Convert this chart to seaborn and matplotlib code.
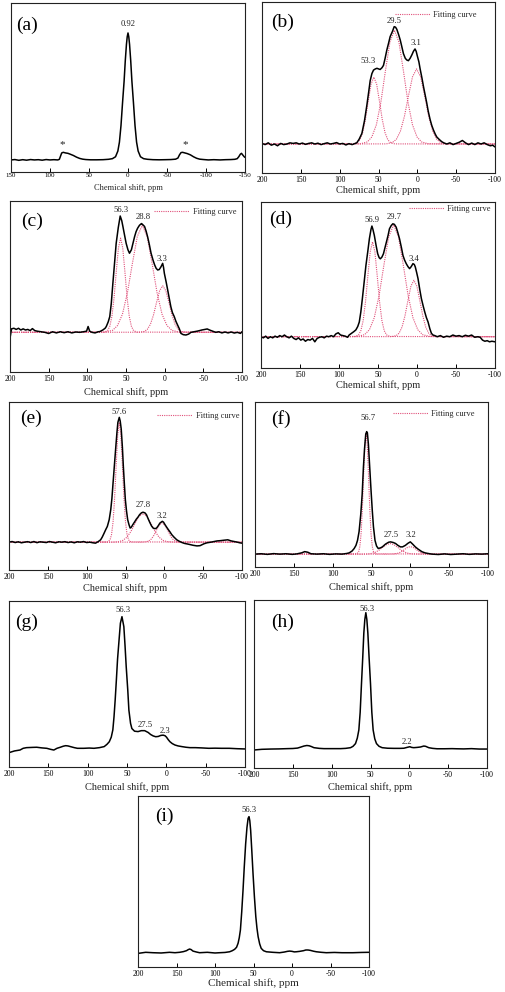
import matplotlib
matplotlib.use('Agg')
import matplotlib.pyplot as plt
import seaborn as sns
from matplotlib.lines import Line2D
from matplotlib.transforms import Bbox

# ---------------- data (ppm, relative intensity) ----------------
ticks_a = [150, 100, 50, 0, -50, -100, -150]
ticks_std = [200, 150, 100, 50, 0, -50, -100]

# (a)
a_x = [150, 145, 140, 135, 130, 125, 120, 115, 110, 105, 100, 95, 90, 88, 86.5, 85, 83, 80, 77, 74, 70, 66, 62, 58, 54, 48, 40, 32, 25, 20, 16, 13, 11, 9, 7, 5, 3.5, 2, 1, 0,
       -1, -2, -3.5, -5, -7, -9, -11, -13, -16, -20, -25, -32, -40, -48, -55, -61, -64, -66, -68, -70, -73, -76, -80, -84, -88, -92, -97, -103, -110, -118, -125, -132, -137, -140, -142, -144, -145.5, -147, -149, -150]
a_y = [0, 0.3, -0.3, 0.2, -0.2, 0.3, 0, 0.2, -0.2, 0.3, 0, 0.2, 0, 0.5, 3, 5.5, 6, 5.5, 5.2, 4.5, 3.5, 2.2, 1.2, 0.6, 0.3, 0.1, 0.1, 0.2, 0.5, 1, 2.5, 7, 14, 27, 45, 62, 78, 91, 97, 100,
       97, 91, 78, 62, 45, 27, 14, 7, 2.5, 1, 0.5, 0.2, 0.1, 0.2, 0.3, 0.6, 1.5, 4, 5.8, 6, 5.5, 5, 4, 2.5, 1.3, 0.6, 0.3, 0, 0.2, 0, 0.2, 0.3, 0.5, 1, 2.5, 4.5, 5.2, 4, 2.5, 2]
a_lab_text = ['0.92', '*', '*']
a_lab_x = [0, 84, -73]
a_lab_y = [107, 12, 12]

# (b)
b_x = [200, 196, 192, 188, 184, 180, 176, 172, 168, 164, 160, 156, 152, 148, 144, 140, 136, 132, 128, 124, 120, 116, 112, 108, 104, 100, 96, 92, 88, 84, 80,
       78, 75, 71.4, 68, 65, 62.5, 60.7, 58.5, 56.4, 54, 52, 50, 47.9, 45.5, 43.6, 41.5, 39.3, 37, 35, 32, 29.8, 28, 26.4, 24, 22, 20, 17.9, 15.5, 13.6, 11.5, 9.3, 7, 5, 3, 1.5, 0,
       -2, -3.6, -6, -7.9, -10, -12.1, -14, -16.4, -18.5, -20.7, -23, -25, -28, -31.4, -34, -37.9, -42, -46, -50, -54, -58, -62, -66, -70, -74, -78, -82, -86, -90, -94, -97, -100]
b_y = [0.5, -0.5, 1, -1, 0, -1.5, 0.5, -0.5, 0, 1, 0.5, 1, 0, 0.8, -0.3, 0.5, 1, 0, 0.7, -0.5, 0.3, 1, 0, 0.5, 1.2, 0, 0.5, -0.8, 0.3, -0.5, 0.5,
       1, 4, 9, 20, 33, 45, 54, 60, 63, 64, 64.5, 64, 63.5, 65, 67, 73, 80, 86, 91.5, 96, 100, 99.5, 97.7, 93, 88.6, 83, 77, 73, 71.6, 71, 73, 76, 79, 81, 79, 75,
       70, 64, 56, 49, 42, 35, 28, 21, 16, 12, 8.5, 6, 4, 2, 1, 0, 1, -0.5, 0.5, 1.5, 3, 1, -0.5, 0.8, -0.5, 1, 0, 1, -0.5, -1.5, -1, -2.5]
b_fit1_x = [200, 83, 77.6, 74, 70.4, 66.8, 63.2, 59.6, 56, 52.4, 48.8, 45.2, 41.6, 38, 34.4, 29, -100]
b_fit1_y = [0, 0.1, 1.1, 3.6, 9.7, 21, 36.6, 51, 57, 51, 36.6, 21, 9.7, 3.6, 1.1, 0.1, 0]
b_fit2_x = [200, 73, 64.3, 58.5, 52.7, 46.9, 41.1, 35.3, 29.5, 23.7, 17.9, 12.1, 6.3, 0.5, -5.3, -14, -100]
b_fit2_y = [0, 0.2, 1.8, 6.1, 16.5, 35.8, 62.3, 86.8, 97, 86.8, 62.3, 35.8, 16.5, 6.1, 1.8, 0.2, 0]
b_fit3_x = [200, 40, 32.2, 27, 21.8, 16.6, 11.4, 6.2, 1, -4.2, -9.4, -14.6, -19.8, -25, -30.2, -38, -100]
b_fit3_y = [0, 0.1, 1.2, 4, 10.9, 23.6, 41.1, 57.3, 64, 57.3, 41.1, 23.6, 10.9, 4, 1.2, 0.1, 0]
b_lab_text = ['53.3', '29.5', '3.1']
b_lab_x = [63, 30, 2]
b_lab_y = [71, 105, 86]

# (c)
c_x = [200, 198, 195, 192, 189, 186, 183, 180, 177, 174, 171, 168, 165, 160, 155, 150, 145, 140, 135, 130, 125, 120, 115, 110, 105, 101, 99, 97, 94, 90, 86, 84, 80, 77, 75.5, 73, 71, 69, 67, 65, 62.7, 60, 57.5, 55.5, 54, 52, 49.8, 47.5, 45.5, 43, 41, 39, 37, 35, 32.6, 30, 29, 27.5, 26, 24, 22, 20, 17.6, 15, 13, 11, 9, 7, 4.7, 2.6, 1.5, 0.4,
       -2, -3.9, -6, -8, -10, -12.4, -14.5, -16.7, -19, -21, -24, -27.5, -31, -34, -38, -42, -44.6, -48, -52, -55, -58, -62, -66, -70, -74, -78, -82, -86, -90, -94, -98, -100]
c_y = [-5, 3, 3.5, 2.5, 3.5, 2, 3, 2, 2.5, 1.5, 3.2, 1.5, 1, 0.5, 0, -1, 0.5, -0.5, 0.5, -0.3, 0.5, -0.5, 0.3, 0, 0.5, 1, 5, 1, 0, -0.5, 0.5, 0.6, 2, 3.5, 5, 9, 13.5, 25, 42, 58, 76.5, 90, 100, 96, 91, 84, 76.5, 71, 68, 71, 76.5, 82, 86.5, 89.5, 92, 93.5, 93, 92, 91, 87, 82, 76, 68, 62, 58, 55, 53.6, 54, 56.4, 59.3, 56, 50.7,
       43, 36.4, 29, 22, 17, 13.5, 9.5, 6.3, 3, -0.9, -2, -2.3, -1.5, 0, 0.5, 1, 1.4, 2, 2.5, 2.9, 2, 1, 0, 0.5, -0.5, 0.3, -0.5, 0.3, -0.6, 0, -0.9, 0.5]
c_fit1_x = [200, 78, 73.8, 71, 68.2, 65.4, 62.6, 59.8, 57, 54.2, 51.4, 48.6, 45.8, 43, 40.2, 36, -100]
c_fit1_y = [0, 0.2, 1.5, 5.1, 13.8, 29.9, 52, 72.5, 81, 72.5, 52, 29.9, 13.8, 5.1, 1.5, 0.2, 0]
c_fit2_x = [200, 77, 67.4, 61, 54.6, 48.2, 41.8, 35.4, 29, 22.6, 16.2, 9.8, 3.4, -3, -9.4, -19, -100]
c_fit2_y = [0, 0.2, 1.7, 5.8, 15.6, 33.9, 59, 82.3, 92, 82.3, 59, 33.9, 15.6, 5.8, 1.7, 0.2, 0]
c_fit3_x = [200, 32.5, 26.5, 22.5, 18.5, 14.5, 10.5, 6.5, 2.5, -1.5, -5.5, -9.5, -13.5, -17.5, -21.5, -27.5, -100]
c_fit3_y = [0, 0.1, 0.7, 2.5, 6.8, 14.8, 25.7, 35.8, 40, 35.8, 25.7, 14.8, 6.8, 2.5, 0.7, 0.1, 0]
c_lab_text = ['56.3', '28.8', '3.3']
c_lab_x = [56, 27.5, 4]
c_lab_y = [105, 99, 63]

# (d)
d_x = [200, 197, 194, 191, 188, 185, 182, 179, 176, 173, 170, 167, 164, 161, 158, 155, 152, 149, 146, 143, 140, 137, 134, 131, 128, 125, 122, 119, 116, 113, 110, 107, 104, 101, 98, 95, 92, 89, 87, 84, 81, 78.4, 76, 74, 72, 70, 67.5, 65.5, 63, 61, 59, 57.8, 56.5, 54.7, 52.5, 50.4, 48.5, 47, 45, 43, 41, 38.8, 37, 35.3, 33, 31, 29, 26.7, 24.5, 22.4, 20, 18, 16, 13.8, 11.5, 9.5, 7.5, 5.2, 3.5, 2.2, 0.5,
       -1.3, -3.5, -5.6, -8, -9.9, -12, -14.2, -16.5, -18.5, -20.5, -22.8, -26, -30, -34, -38, -42, -46, -50, -54, -58, -62, -66, -70, -74, -78, -81, -84, -87, -90, -93, -96, -100]
d_y = [0, -1, 0.5, -1.5, 0, -1, 0.5, -0.5, 1, 0, 1.5, 0, -1, 0.5, -1.5, -2.5, -1, -3, -2, -4, -2.5, -3, -1.5, -4.5, -1.5, -0.5, 0, -1, 0.5, 0, 1, 0, 2.5, 3.5, 1.5, 1, 0.5, -0.5, 1.5, 3, 4.5, 6, 9, 13, 22, 34, 50, 63, 76, 87, 95, 98, 95, 89.7, 81, 73.5, 70, 69, 70.5, 73.5, 79, 85, 90, 95.6, 98.5, 100, 99.5, 97, 92, 86.7, 79, 72, 68, 64.7, 62, 60.3, 62, 64.7, 64, 61.8, 57,
       51.5, 42, 33.8, 27, 22, 17, 13, 7, 3, 1.5, 1, 0, 1, -0.5, 0.5, 0, 1.5, 0.5, 1, 0, 1.3, 0.5, 1.5, -0.5, 0, -0.5, -3, -4, -3.5, -4.5, -4, -4.5]
d_fit1_x = [200, 79.5, 75, 72, 69, 66, 63, 60, 57, 54, 51, 48, 45, 42, 39, 34.5, -100]
d_fit1_y = [0, 0.2, 1.6, 5.3, 14.3, 31, 53.9, 75.2, 84, 75.2, 53.9, 31, 14.3, 5.3, 1.6, 0.2, 0]
d_fit2_x = [200, 76.5, 67.2, 61, 54.8, 48.6, 42.4, 36.2, 30, 23.8, 17.6, 11.4, 5.2, -1, -7.2, -16.5, -100]
d_fit2_y = [0, 0.2, 1.8, 6.2, 16.8, 36.5, 63.6, 88.6, 99, 88.6, 63.6, 36.5, 16.8, 6.2, 1.8, 0.2, 0]
d_fit3_x = [200, 32.5, 26.8, 23, 19.2, 15.4, 11.6, 7.8, 4, 0.2, -3.6, -7.4, -11.2, -15, -18.8, -24.5, -100]
d_fit3_y = [0, 0.1, 0.9, 3.1, 8.5, 18.5, 32.1, 44.8, 50, 44.8, 32.1, 18.5, 8.5, 3.1, 0.9, 0.1, 0]
d_lab_text = ['56.9', '29.7', '3.4']
d_lab_x = [58, 29, 4]
d_lab_y = [103, 106, 69]

# (e)
e_x = [200, 196, 192, 188, 184, 180, 176, 172, 168, 164, 160, 156, 152, 148, 144, 140, 136, 132, 128, 124, 120, 116, 112, 108, 104, 100, 96, 92, 88.6, 85, 82, 80, 77.7, 75.5, 73.4, 71, 69, 67.5, 66, 64, 62.4, 61, 59.8, 58, 56.8, 55.5, 54, 52.8, 51.5, 50.2, 48.7, 47.2, 45.5, 44, 42.5, 40.6, 38, 36, 34, 31.9, 29.5, 27.5, 25, 23, 21, 18.8, 16.5, 14.4, 12, 10, 8, 5.7, 2.6, 1,
       -0.9, -3, -5.2, -7.5, -9.6, -12.5, -16, -19, -22.7, -26, -30, -33.6, -37, -42, -46, -51, -55, -60, -64, -68, -72, -76, -81.7, -86, -90, -94, -97, -100]
e_y = [0, 0.5, -0.3, 0.3, -0.5, 0, 0.4, -0.3, 0.5, -0.4, 0.3, 0, -0.3, 0.5, 0, -0.5, 0.3, 0, 0.4, -0.3, 0.2, -0.5, 0.3, 0, 0.5, -0.3, 0, -0.5, -0.8, 0.5, 1.9, 4, 7, 10, 12.6, 18, 26, 35, 47.6, 64, 77, 88, 96, 100, 97, 90.6, 76, 61, 47, 34, 25, 18, 14, 11.3, 12, 14, 16.5, 18.5, 20, 22, 23.5, 24, 23.5, 22, 19, 15.9, 13, 11.3, 10.8, 11.3, 13, 15.3, 16.7, 16,
       14, 12, 10, 8, 6, 4, 1.9, 0.8, -0.3, -1, -1.5, -2, -2.5, -3, -2.8, -1.3, -0.5, 0, 0.5, 1, 1.2, 1.5, 1.9, 1, 0.5, 0, -0.5, -0.8]
e_fit1_x = [200, 73, 70, 68, 66, 64, 62, 60, 58, 56, 54, 52, 50, 48, 46, 43, -100]
e_fit1_y = [0, 0.2, 1.8, 6, 16.3, 35.4, 61.6, 85.9, 96, 85.9, 61.6, 35.4, 16.3, 6, 1.8, 0.2, 0]
e_fit2_x = [200, 66.5, 58.7, 53.5, 48.3, 43.1, 37.9, 32.7, 27.5, 22.3, 17.1, 11.9, 6.7, 1.5, -3.7, -11.5, -100]
e_fit2_y = [0, 0.05, 0.4, 1.4, 3.9, 8.5, 14.8, 20.6, 23, 20.6, 14.8, 8.5, 3.9, 1.4, 0.4, 0.05, 0]
e_fit3_x = [200, 28.5, 23.4, 20, 16.6, 13.2, 9.8, 6.4, 3, -0.4, -3.8, -7.2, -10.6, -14, -17.4, -22.5, -100]
e_fit3_y = [0, 0.03, 0.3, 1, 2.6, 5.7, 10, 13.9, 15.5, 13.9, 10, 5.7, 2.6, 1, 0.3, 0.03, 0]
e_lab_text = ['57.6', '27.8', '3.2']
e_lab_x = [58, 27.5, 2.6]
e_lab_y = [104.5, 29.5, 21]

# (f)
f_x = [200, 192, 184, 176, 168, 160, 152, 146, 140, 136, 132, 128, 120, 112, 104, 96, 88, 82, 78.7, 75, 72.3, 70, 68, 66, 63.8, 62, 60.4, 59, 57.4, 56.2, 55.3, 54, 52.3, 50.5, 49, 47.5, 45.5, 43.5, 41.3, 38.5, 36, 32, 28, 25.5, 22, 19, 16, 12.8, 10, 6.4, 3, 0,
       -3, -6.4, -10, -15, -19, -23, -28, -36, -44, -52, -60, -68, -76, -84, -92, -100]
f_y = [0, 0.3, -0.2, 0.4, 0, 0.3, -0.2, 0.2, 1, 2, 1.5, 0.3, 0, 0.3, -0.2, 0.2, 0, 0.5, 1, 2.5, 4.5, 7, 11, 18, 32, 48, 69.5, 84, 96, 98, 97, 88, 69.5, 50, 35, 22, 11, 6.5, 4.5, 5, 5.8, 8, 9.5, 9.8, 9.3, 8.5, 7, 5.8, 5.8, 7, 8.7, 9.8,
       8, 5.8, 4, 1.9, 1, 0.5, 0, -0.3, 0.2, -0.3, 0, 0.3, -0.2, 0.2, 0, 0.3]
f_fit1_x = [200, 69, 66.6, 65, 63.4, 61.8, 60.2, 58.6, 57, 55.4, 53.8, 52.2, 50.6, 49, 47.4, 45, -100]
f_fit1_y = [0, 0.2, 1.8, 6.1, 16.5, 35.8, 62.3, 86.8, 97, 86.8, 62.3, 35.8, 16.5, 6.1, 1.8, 0.2, 0]
f_fit2_x = [200, 62, 54.8, 50, 45.2, 40.4, 35.6, 30.8, 26, 21.2, 16.4, 11.6, 6.8, 2, -2.8, -10, -100]
f_fit2_y = [0, 0.02, 0.16, 0.53, 1.45, 3.1, 5.5, 7.6, 8.5, 7.6, 5.5, 3.1, 1.45, 0.53, 0.16, 0.02, 0]
f_fit3_x = [200, 27, 21.6, 18, 14.4, 10.8, 7.2, 3.6, 0, -3.6, -7.2, -10.8, -14.4, -18, -21.6, -27, -100]
f_fit3_y = [0, 0.01, 0.11, 0.38, 1.02, 2.2, 3.85, 5.4, 6, 5.4, 3.85, 2.2, 1.02, 0.38, 0.11, 0.01, 0]
f_lab_text = ['56.7', '27.5', '3.2']
f_lab_x = [54, 24, -1]
f_lab_y = [109, 15, 15]

# (g)
g_x = [200, 193, 186, 182, 177.7, 170, 164.8, 158, 152, 147, 143, 139, 134.8, 131, 128, 125, 122, 117, 113, 105, 98, 92, 85, 79, 75.5, 72.5, 70, 68, 66.5, 65, 63.5, 62, 60, 58.4, 56.4, 54, 52.5, 51, 49, 47.6, 45.5, 43.8, 40.4, 36, 31.8, 27.5, 23, 20, 16.7, 13.5, 10.3, 7, 4, 1.5,
       -0.3, -2.5, -4.6, -7.5, -11, -15, -19.7, -25, -30, -36.9, -45, -54, -62, -70, -80, -90, -100]
g_y = [-3.3, -2, -1.3, 0, 0.5, 0.7, 0.8, 0.3, 0, -0.8, -1.3, 0, 0.8, 1.6, 2, 1.8, 1.3, 0.5, 0, 0, 0.2, 0, 0.5, 1.3, 3, 5, 8.5, 14, 24, 37, 52, 67.8, 83, 95, 100, 92.4, 78, 62, 44, 29, 19, 15, 13, 12.7, 13.4, 13.4, 12, 10.5, 9.4, 8.8, 9, 9.8, 10, 9.5,
       8.4, 6.5, 5, 3.6, 2.5, 1.8, 1.3, 0.8, 0.5, 0.5, 0.3, 0, 0.1, 0, 0, -0.3, -0.5]
g_lab_text = ['56.3', '27.5', '2.3']
g_lab_x = [55.5, 26.5, 1.7]
g_lab_y = [105, 18, 13.5]

# (h)
h_x = [200, 190, 178.6, 168, 157, 150, 144, 140, 135.7, 132, 129, 126, 122.8, 116, 110, 100, 88.6, 82, 75.7, 72.5, 69.3, 67, 65, 63.3, 61.6, 60, 58.6, 57.3, 56, 54.7, 53.4, 51.8, 50, 48.3, 46.6, 44.5, 42.3, 39, 35, 28, 20, 12, 7, 3,
       -0.6, -3, -5.7, -10, -14.3, -18.6, -21, -25, -30, -35.7, -45, -55, -61, -70, -80, -90, -100]
h_y = [-0.7, -0.2, 0, 0.1, 0.3, 0.4, 0.7, 1.4, 2.2, 2.6, 2.4, 1.8, 1, 0.5, 0.3, 0.3, 0.3, 0.5, 1, 2, 4, 8, 14, 27, 48, 67, 85, 95, 100, 95, 85, 67, 48, 27, 14, 7.5, 4, 2, 1, 0.6, 0.5, 0.5, 0.6, 1.2,
       1.7, 1.2, 1, 1.2, 1.5, 2.2, 2, 1, 0.5, 0.2, 0.2, 0.3, 0.2, 0.1, 0.3, 0, 0]
h_lab_text = ['56.3', '2.2']
h_lab_x = [54.5, 3]
h_lab_y = [102.5, 5.5]

# (i)
i_x = [200, 190, 180.5, 170, 159, 152, 146, 141, 137, 135, 133, 131, 128.6, 124, 120, 110, 100, 94, 87, 81, 77.5, 74.5, 72, 70, 68.5, 67, 65.3, 63.6, 62, 60.2, 58.5, 57, 55.8, 54.8, 53.7, 52.3, 50.6, 48.8, 47, 45.5, 44, 42, 40, 37, 33.3, 25, 16, 10, 6, 3, 0,
       -3, -5.6, -10, -15, -18, -20.8, -24, -28, -31.6, -38, -44.6, -55, -65, -79, -90, -100]
i_y = [-0.5, 0.3, 0, -0.2, 0.3, 0, 0.3, 0.8, 1.5, 2.2, 2.7, 2.3, 1.2, 0.5, 0, 0.3, -0.2, 0, 0.2, 0.7, 1.5, 2.5, 4, 7, 11, 16.7, 30, 46, 63, 80, 92, 98.8, 100, 97, 90, 76, 58, 41, 26.5, 18, 11.8, 6.5, 3.2, 1.5, 0.7, 0.3, 0, 0.5, 1, 1.2, 1,
       0.6, 0.7, 1, 1.5, 2, 2, 1.7, 1.1, 0.7, 0.3, 0, 0.2, 0, 0, 0.2, 0.3]
i_lab_text = ['56.3']
i_lab_x = [55.8]
i_lab_y = [105]

# ---------------- styling / layout ----------------
sns.set_theme(style='white')
plt.rcParams['font.family'] = ['Liberation Serif', 'DejaVu Serif']
plt.rcParams['axes.unicode_minus'] = False

W, H = 505, 992
fig = plt.figure(figsize=(W / 100, H / 100), dpi=100)
FIT = '#E0507A'

panels = [
    dict(tag='(a)', rect=(11, 3, 245, 172), xlim=(150, -150), ticks=ticks_a, ylim=(-9.5, 123.6),
         main=(a_x, a_y), fits=[], labels=(a_lab_text, a_lab_x, a_lab_y),
         letter=(16, 22), legend=None, tfs=5.0, xfs=6.0, tpad=1.0, xdy=16, clip=None),
    dict(tag='(b)', rect=(262, 2, 495, 173), xlim=(200, -100), ticks=ticks_std, ylim=(-24.7, 121),
         main=(b_x, b_y), fits=[(b_fit1_x, b_fit1_y), (b_fit2_x, b_fit2_y), (b_fit3_x, b_fit3_y)],
         labels=(b_lab_text, b_lab_x, b_lab_y), letter=(21, 20), legend=(477, 15), tfs=5.5, xfs=7.5,
         tpad=2.0, xdy=17, clip=None),
    dict(tag='(c)', rect=(10, 201, 242, 372), xlim=(200, -100), ticks=ticks_std, ylim=(-34.1, 112.9),
         main=(c_x, c_y), fits=[(c_fit1_x, c_fit1_y), (c_fit2_x, c_fit2_y), (c_fit3_x, c_fit3_y)],
         labels=(c_lab_text, c_lab_x, c_lab_y), letter=(22, 20), legend=(236, 212), tfs=5.5, xfs=7.5,
         tpad=2.5, xdy=20, clip=None),
    dict(tag='(d)', rect=(261, 202, 495, 368), xlim=(200, -100), ticks=ticks_std, ylim=(-27.7, 119.3),
         main=(d_x, d_y), fits=[(d_fit1_x, d_fit1_y), (d_fit2_x, d_fit2_y), (d_fit3_x, d_fit3_y)],
         labels=(d_lab_text, d_lab_x, d_lab_y), letter=(20, 17), legend=(491, 209), tfs=5.5, xfs=7.5,
         tpad=2.0, xdy=17, clip=None),
    dict(tag='(e)', rect=(9, 402, 242, 570), xlim=(200, -100), ticks=ticks_std, ylim=(-22.3, 112.3),
         main=(e_x, e_y), fits=[(e_fit1_x, e_fit1_y), (e_fit2_x, e_fit2_y), (e_fit3_x, e_fit3_y)],
         labels=(e_lab_text, e_lab_x, e_lab_y), letter=(22, 16), legend=(239, 416), tfs=5.5, xfs=7.5,
         tpad=2.0, xdy=18, clip=None),
    dict(tag='(f)', rect=(255, 402, 488, 567), xlim=(200, -100), ticks=ticks_std, ylim=(-10.3, 121.7),
         main=(f_x, f_y), fits=[(f_fit1_x, f_fit1_y), (f_fit2_x, f_fit2_y), (f_fit3_x, f_fit3_y)],
         labels=(f_lab_text, f_lab_x, f_lab_y), letter=(26, 17), legend=(475, 414), tfs=5.5, xfs=7.5,
         tpad=2.5, xdy=20, clip=None),
    dict(tag='(g)', rect=(9, 601, 245, 767), xlim=(200, -100), ticks=ticks_std, ylim=(-14.2, 111.9),
         main=(g_x, g_y), fits=[], labels=(g_lab_text, g_lab_x, g_lab_y),
         letter=(18, 21), legend=None, tfs=5.5, xfs=7.5, tpad=2.5, xdy=20, clip=251),
    dict(tag='(h)', rect=(254, 600, 487, 768), xlim=(200, -100), ticks=ticks_std, ylim=(-13.9, 109.3),
         main=(h_x, h_y), fits=[], labels=(h_lab_text, h_lab_x, h_lab_y),
         letter=(29, 22), legend=None, tfs=5.5, xfs=7.5, tpad=2.5, xdy=19, clip=None),
    dict(tag='(i)', rect=(138, 796, 369, 967), xlim=(200, -100), ticks=ticks_std, ylim=(-10.5, 115.2),
         main=(i_x, i_y), fits=[], labels=(i_lab_text, i_lab_x, i_lab_y),
         letter=(26, 20), legend=None, tfs=5.5, xfs=8.0, tpad=2.0, xdy=16, clip=None),
]

for p in panels:
    l, t, r, b = p['rect']
    wpx, hpx = r - l, b - t
    ax = fig.add_axes([l / W, 1 - b / H, wpx / W, hpx / H])
    for fx, fy in p['fits']:
        sns.lineplot(x=fx, y=fy, ax=ax, color=FIT, linestyle=(0, (1, 1)), linewidth=0.8,
                     sort=False, estimator=None, legend=False)
    mx, my = p['main']
    sns.lineplot(x=mx, y=my, ax=ax, color='black', linewidth=1.1, sort=False,
                 estimator=None, legend=False)
    ax.set_xlim(*p['xlim'])
    ax.set_ylim(*p['ylim'])
    ax.set_xticks(p['ticks'])
    ax.set_xticklabels([str(v) for v in p['ticks']])
    ax.set_yticks([])
    ax.tick_params(axis='x', direction='in', length=3, width=0.7, labelsize=p['tfs'],
                   pad=p['tpad'], colors='black', bottom=True)
    for s in ax.spines.values():
        s.set_visible(True)
        s.set_color('#222222')
        s.set_linewidth(0.8)
    ax.set_xlabel('Chemical shift, ppm', fontsize=p['xfs'], va='center')
    ax.xaxis.set_label_coords(0.5, -p['xdy'] / hpx)
    ax.set_ylabel('')
    if p['clip'] is not None:
        # the right-most tick label is cut by the neighbouring panel in the reference
        cb = Bbox.from_extents(0, 0, p['clip'], H)
        for lbl in ax.get_xticklabels()[-1:]:
            lbl.set_clip_on(True)
            lbl.set_clip_box(cb)
    txt, lx, ly = p['labels']
    for s_, x_, y_ in zip(txt, lx, ly):
        fs = 8 if s_ == '*' else 6.2
        ax.text(x_, y_, s_, ha='center', va='center', fontsize=fs, color='#222222')
    dx, dy = p['letter']
    ax.text(dx / wpx, 1 - dy / hpx, p['tag'], transform=ax.transAxes, ha='center',
            va='center', fontsize=14, color='black')
    if p['legend'] is not None:
        ex, ey = p['legend']
        h = Line2D([], [], color=FIT, linestyle=(0, (1, 1)), linewidth=0.8)
        ax.legend([h], ['Fitting curve'], loc='center right', frameon=False,
                  bbox_to_anchor=((ex - l) / wpx, 1 - (ey - t) / hpx),
                  fontsize=6, handlelength=4.2, handletextpad=0.4,
                  borderpad=0, borderaxespad=0)

fig.savefig('out.png', dpi=100)
